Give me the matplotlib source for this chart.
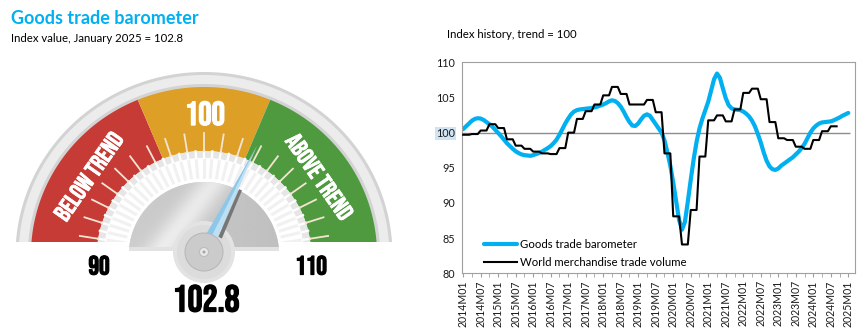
import numpy as np
import matplotlib
matplotlib.use("Agg")
import matplotlib.pyplot as plt
import matplotlib.patheffects as pe
from matplotlib.patches import Polygon, Circle, Rectangle

plt.rcParams['font.family'] = ['Lato', 'DejaVu Sans']

# ---- data ----
gauge_min, gauge_max = 90, 110
gauge_value = 102.8
trend_value = 100
band_edges = [90, 97.5, 102.5, 110]
band_colors = ['#C73B36', '#DE9F27', '#4F9A3F']

tick_labels = ['2014M01', '2014M07', '2015M01', '2015M07', '2016M01', '2016M07',
               '2017M01', '2017M07', '2018M01', '2018M07', '2019M01', '2019M07',
               '2020M01', '2020M07', '2021M01', '2021M07', '2022M01', '2022M07',
               '2023M01', '2023M07', '2024M01', '2024M07', '2025M01']

# monthly, 2014M01 .. 2025M01
barometer = [100.5, 100.9, 101.3, 101.7, 101.95, 102.05, 102.0, 101.8, 101.5, 101.2,
             100.85, 100.4, 99.95, 99.5, 99.0, 98.5, 98.1, 97.7, 97.35, 97.1,
             96.9, 96.8, 96.75, 96.7, 96.8, 96.95, 97.1, 97.3, 97.55, 97.8,
             98.1, 98.5, 99.0, 99.7, 100.5, 101.3, 102.0, 102.6, 103.0, 103.2,
             103.3, 103.35, 103.4, 103.45, 103.5, 103.6, 103.7, 103.85, 104.0, 104.2,
             104.45, 104.6, 104.5, 104.2, 103.7, 103.0, 102.2, 101.5, 101.0, 100.95,
             101.3, 101.9, 102.4, 102.6, 102.4, 101.8, 101.2, 100.6, 100.0, 98.9,
             97.2, 95.3, 92.9, 90.3, 87.6, 86.2, 87.3, 90.2, 93.3, 96.2,
             98.7, 100.6, 102.0, 103.2, 104.4, 106.0, 107.6, 108.4, 107.8, 106.3,
             104.9, 103.9, 103.45, 103.3, 103.25, 103.2, 103.0, 102.7, 102.3, 101.7,
             100.9, 99.8, 98.6, 97.2, 96.0, 95.2, 94.8, 94.7, 94.9, 95.3,
             95.6, 95.9, 96.2, 96.5, 96.9, 97.3, 97.8, 98.4, 99.2, 100.0,
             100.6, 101.0, 101.3, 101.45, 101.5, 101.55, 101.6, 101.75, 101.95, 102.15,
             102.4, 102.6, 102.8]

# quarterly, 2014Q1 .. 2024Q3 (shown as monthly steps)
trade_volume_q = [99.7, 99.8, 100.3, 101.2, 100.65, 99.05, 98.15, 97.7, 97.3, 97.05,
                  96.95, 97.8, 100.0, 101.95, 103.05, 104.0, 105.3, 106.5, 105.5, 104.0,
                  104.0, 104.65, 102.9, 97.05, 88.1, 84.1, 89.0, 96.6, 101.75, 102.45,
                  101.6, 103.3, 105.65, 106.25, 104.75, 101.5, 99.2, 98.95, 98.0, 97.7,
                  98.95, 100.2, 100.9]

BLUE = '#00B0F0'
COND = ['Bebas Neue', 'Oswald', 'Barlow Condensed', 'DejaVu Sans']

fig = plt.figure(figsize=(8.6, 3.31), dpi=100)

# background axes in pixel units (y down) for the gauge and headings
g = fig.add_axes([0, 0, 1, 1])
g.set_xlim(0, 860)
g.set_ylim(331, 0)
g.axis('off')

CX, CY, SX = 204, 255, 1.03


def phi_of(v):
    return np.radians(180 - (v - gauge_min) / (gauge_max - gauge_min) * 180)


def pt(r, ph, cx=CX, cy=CY):
    return cx + SX * r * np.cos(ph), cy - r * np.sin(ph)


def ring(r0, r1, ph0=0.0, ph1=np.pi, n=150):
    ph = np.linspace(ph0, ph1, n)
    xo, yo = pt(r1, ph)
    xi, yi = pt(r0, ph[::-1])
    return np.column_stack([np.r_[xo, xi], np.r_[yo, yi]])


clip = Rectangle((0, 0), 430, 242, transform=g.transData)


def add(patch, clipped=True, z=1):
    patch.set_zorder(z)
    g.add_patch(patch)
    if clipped:
        patch.set_clip_path(clip)
    return patch


# outer rim
add(Polygon(ring(167, 183), closed=True, fc='#d3d3d3', ec='none'))
add(Polygon(ring(171, 180), closed=True, fc='#ececec', ec='none'))

# coloured bands
for v0, v1, c in zip(band_edges[:-1], band_edges[1:], band_colors):
    add(Polygon(ring(104, 168, phi_of(v1), phi_of(v0)), closed=True, fc=c, ec='none'), z=2)

# inner ring
add(Polygon(ring(97, 104), closed=True, fc='#e6e6e6', ec='none'), z=2)
add(Polygon(ring(76, 97), closed=True, fc='white', ec='none'), z=2)

for v in np.arange(gauge_min, gauge_max + 0.01, 0.5):
    ph = phi_of(v)
    x, y = pt(np.array([78, 97]), ph)
    ln, = g.plot(x, y, color='#f1f1f1', lw=2.2, zorder=3)
    ln.set_clip_path(clip)
    x, y = pt(np.array([97, 104]), ph)
    ln, = g.plot(x, y, color='white', lw=1.6, zorder=3)
    ln.set_clip_path(clip)

for v in range(gauge_min + 1, gauge_max):
    x, y = pt(np.array([104, 122]), phi_of(v))
    ln, = g.plot(x, y, color='#F4E4D2', lw=1.3, zorder=3)
    ln.set_clip_path(clip)

# dial face with a silver gradient
face_clip = Rectangle((0, 0), 430, 249, transform=g.transData)
face = add(Polygon(ring(0, 73), closed=True, fc='#d2d2d2', ec='none'), clipped=False, z=4)
face.set_clip_path(face_clip)
X, Y = np.meshgrid(np.linspace(0, 1, 240), np.linspace(0, 1, 120))
shade = 0.80 + 0.14 * np.exp(-((X - 0.40 + 0.35 * (Y - 0.5)) ** 2) / 0.015) - 0.05 * X
im = g.imshow(shade, extent=(128, 281, 249, 180), cmap='gray', vmin=0, vmax=1,
              interpolation='bilinear', aspect='auto', zorder=4.5)
im.set_clip_path(face)
g.set_xlim(0, 860)
g.set_ylim(331, 0)
g.add_patch(Rectangle((129, 247), 150, 4, fc='#e2e2e2', ec='none', zorder=4.6))

# hub and needle
HX, HY = 204, 252
g.add_patch(Circle((HX, HY), 31, fc='#e3e3e3', ec='none', zorder=5))
g.add_patch(Circle((HX, HY), 27, fc='#dcdcdc', ec='none', zorder=5))

ph = phi_of(gauge_value)
tip = np.array(pt(121, ph))
hub = np.array([HX, HY])
u = (tip - hub) / np.hypot(*(tip - hub))
n = np.array([-u[1], u[0]])
if n[0] < 0:
    n = -n
g.add_patch(Polygon([hub + u * 20 + n * 6, hub + u * 72 + n * 3.5,
                     hub + u * 72 + n * 6.5, hub + u * 20 + n * 10],
                    closed=True, fc='#767676', ec='none', zorder=5.5))
g.add_patch(Polygon([hub - n * 7, tip, hub], closed=True, fc='#8DC8EA', ec='none', zorder=6))
g.add_patch(Polygon([hub, tip, hub + n * 7], closed=True, fc='#BBDFF3', ec='none', zorder=6))

g.add_patch(Circle((HX, HY), 19, fc='#cbcbcb', ec='#b9b9b9', lw=0.8, zorder=7))
g.add_patch(Circle((HX, HY), 4.5, fc='#e9e9e9', ec='#bcbcbc', lw=0.8, zorder=7))
g.add_patch(Circle((HX, HY), 1.5, fc='#a5a5a5', ec='none', zorder=7))


# gauge text (condensed, slightly emboldened with a same-colour stroke)
def gtext(x, y, s, size, color, rot=0, stroke=0.9):
    t = g.text(x, y, s, color=color, fontsize=size, rotation=rot, family=COND,
               fontweight='bold', ha='center', va='center', rotation_mode='anchor',
               zorder=8)
    t.set_path_effects([pe.withStroke(linewidth=stroke, foreground=color)])
    return t


gtext(205, 113, f'{trend_value}', 24, 'white')
bx, by = pt(137, np.radians(145))
gtext(bx, by, 'BELOW TREND', 17.5, 'white', 55, stroke=0.5)
ax_, ay_ = pt(137, np.radians(35))
gtext(ax_, ay_, 'ABOVE TREND', 17.5, 'white', -55, stroke=0.5)
gtext(99, 265, f'{gauge_min}', 19, 'black')
gtext(311, 265, f'{gauge_max}', 19, 'black')
gtext(206, 298, f'{gauge_value}', 27, 'black')

# headings
g.text(11, 18, 'Goods trade barometer', color=BLUE, fontsize=13, fontweight='bold',
       ha='left', va='center')
g.text(11, 38, 'Index value, January 2025 = 102.8', color='black', fontsize=8.2,
       ha='left', va='center')
g.text(447, 35, 'Index history, trend = 100', color='black', fontsize=8.2,
       ha='left', va='center')

# ---- history chart ----
ax = fig.add_axes([462 / 860, 57.7 / 331, 393 / 860, 211 / 331])
ax.set_facecolor('none')

months = np.arange(len(barometer))
volume = np.repeat(trade_volume_q, 3)
vol_months = np.arange(len(volume))

ax.hlines(trend_value, -0.4, 132.5, color='#8c8c8c', lw=1.0, zorder=1)
ax.plot(months, barometer, color=BLUE, lw=3.0, solid_capstyle='round',
        label='Goods trade barometer', zorder=2)
ax.plot(vol_months, volume, color='black', lw=1.5, label='World merchandise trade volume',
        zorder=3)

ax.set_xlim(-0.4, 134.3)
ax.set_ylim(80, 110)
ax.set_yticks(np.arange(80, 111, 5), labels=[str(v) for v in range(80, 111, 5)])
ax.get_yticklabels()[4].set_bbox(dict(facecolor='#cfe3f2', edgecolor='none', pad=0.6))
ax.set_xticks(np.arange(0, 133, 6), labels=tick_labels, rotation=90)
ax.set_xticks(np.arange(0, 134, 3), minor=True)
ax.tick_params(axis='y', length=0, pad=5, labelsize=7.8, labelcolor='#1a1a1a')
ax.tick_params(axis='x', which='both', length=3, direction='out', color='#a0a0a0',
               pad=2, labelsize=7.6, labelcolor='#1a1a1a')
for s in ax.spines.values():
    s.set_color('#a0a0a0')
    s.set_linewidth(0.8)

ax.legend(loc='lower left', bbox_to_anchor=(0.055, 0.025), frameon=False, fontsize=8.2,
          handlelength=2.9, handletextpad=0.3, labelspacing=0.6, borderaxespad=0,
          borderpad=0)

fig.savefig('out.png', dpi=100)
